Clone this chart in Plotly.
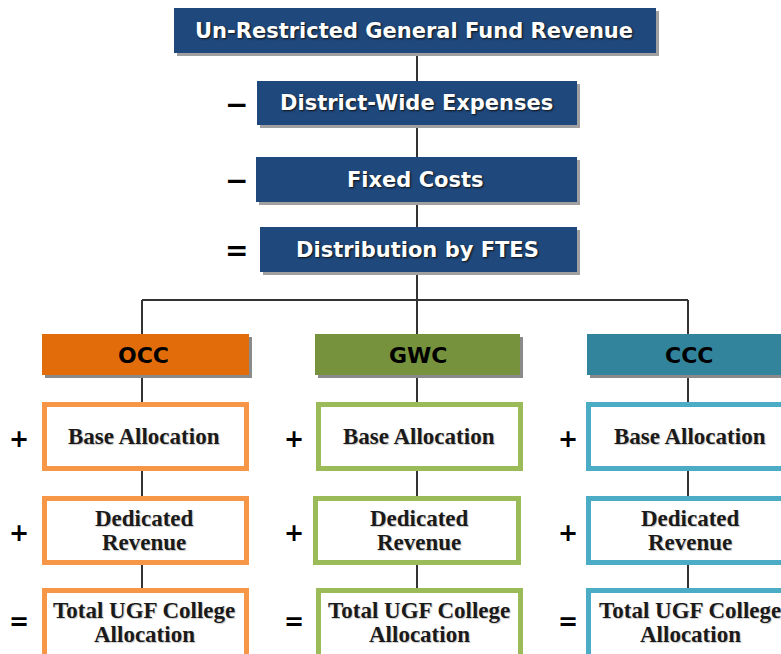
import plotly.graph_objects as go

# ---- content ----
top_labels = ["Un-Restricted General Fund Revenue", "District-Wide Expenses",
              "Fixed Costs", "Distribution by FTES"]
top_signs = ["", "−", "−", "="]
colleges = ["OCC", "GWC", "CCC"]
college_fill = ["#E36C0A", "#76923C", "#31849B"]
college_border = ["#F79646", "#9BBB59", "#4BACC6"]
sub_labels = [["Base Allocation"], ["Dedicated", "Revenue"], ["Total UGF College", "Allocation"]]
sub_signs = ["+", "+", "="]

W, H = 781, 654
fig = go.Figure()
shapes, ann = [], []

SANS = "DejaVu Sans, Arial, sans-serif"
SERIF = "Liberation Serif, Cambria, serif"

def rect(x0, y0, x1, y1, fill, line_color=None, lw=0):
    shapes.append(dict(type="rect", xref="x", yref="y", x0=x0, y0=y0, x1=x1, y1=y1,
                       fillcolor=fill, line=dict(color=line_color or fill, width=lw), layer="above"))

def line(x0, y0, x1, y1, color="#333333", w=2):
    shapes.append(dict(type="line", xref="x", yref="y", x0=x0, y0=y0, x1=x1, y1=y1,
                       line=dict(color=color, width=w), layer="below"))

def text(x, y, s, size, color, family, shadow="none"):
    ann.append(dict(x=x, y=y, xref="x", yref="y", text=s, showarrow=False, xanchor="center",
                    yanchor="middle", align="center",
                    font=dict(size=size, color=color, family=family, weight="bold", shadow=shadow)))

# ---- top chain ----
cx = 417
top_boxes = [(174, 8, 656, 53), (257, 81, 577, 125), (256, 157, 577, 202), (260, 227, 577, 272)]
line(cx, 30, cx, 300)
for (x0, y0, x1, y1), lab, sg in zip(top_boxes, top_labels, top_signs):
    rect(x0 + 3, y0 + 3, x1 + 3, y1 + 3, "#a0a0a0")
    rect(x0, y0, x1, y1, "#1F487C")
    text((x0 + x1) / 2 - 1, (y0 + y1) / 2, lab, 21, "white", SANS,
         shadow="1px 1px 2px #111")
    if sg:
        text(236, (y0 + y1) / 2 + 1, sg, 28, "black", SANS)

# ---- colleges ----
col_cx = [142, 417, 688]
head_x = [(42, 249), (315, 520), (587, 800)]
sub_x = [[(42, 249), (42, 249), (42, 249)],
         [(316, 523), (313, 521), (316, 523)],
         [(586, 800), (586, 800), (586, 800)]]
sign_x = [19, 294, 568]
head_y = (334, 375)
sub_y = [(402, 471), (496, 565), (588, 670)]

line(col_cx[0], 300, col_cx[-1], 300)
for i, name in enumerate(colleges):
    c = col_cx[i]
    line(c, 300, c, 600)
    hx0, hx1 = head_x[i]
    rect(hx0 + 3, head_y[0] + 3, hx1 + 3, head_y[1] + 3, "#8a8a8a")
    rect(hx0, head_y[0], hx1, head_y[1], college_fill[i])
    text(c + 1, (head_y[0] + head_y[1]) / 2 + 1, name, 22, "black", SANS)
    for j, lines in enumerate(sub_labels):
        x0, x1 = sub_x[i][j]
        y0, y1 = sub_y[j]
        rect(x0 + 2.5, y0 + 2.5, x1 - 2.5, y1 - 2.5, "white", college_border[i], 5)
        if len(lines) == 1:
            ys = [(y0 + y1) / 2]
        else:
            ys = [y0 + 22, y0 + 46]
        for yy, s in zip(ys, lines):
            text(c + 2, yy, s, 23, "#1a1a1a", SERIF, shadow="1px 1px 1px #c8c8c8")
        text(sign_x[i], (y0 + y1) / 2 + 2 if j < 2 else 622, sub_signs[j], 24, "black", SANS)

fig.update_layout(
    width=W, height=H, margin=dict(l=0, r=0, t=0, b=0),
    paper_bgcolor="white", plot_bgcolor="white",
    xaxis=dict(range=[0, W], visible=False, fixedrange=True),
    yaxis=dict(range=[H, 0], visible=False, fixedrange=True),
    shapes=shapes, annotations=ann, showlegend=False,
)
fig.write_html("out.html", config={"displayModeBar": False},
               post_script="document.body.style.margin='0';document.body.style.overflow='hidden';")
